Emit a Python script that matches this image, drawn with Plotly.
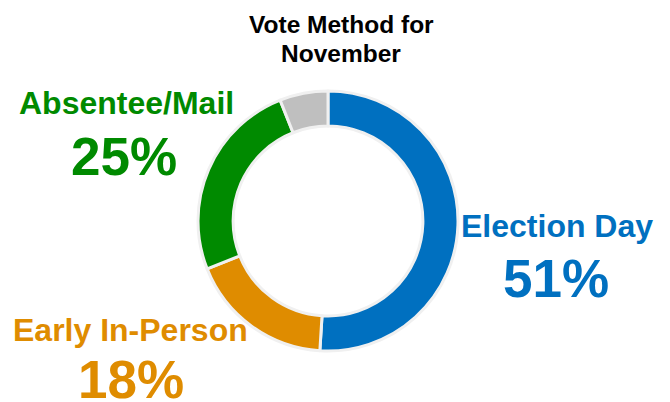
import plotly.graph_objects as go

categories = ["Election Day", "Early In-Person", "Absentee/Mail", "Other"]
values = [51, 18, 25, 6]
pct_labels = ["51%", "18%", "25%", None]
colors = ["#0070C0", "#DF8C00", "#008A00", "#BFBFBF"]
title_lines = ["Vote Method for", "November"]

W, H = 670, 402

fig = go.Figure(go.Pie(
    labels=categories,
    values=values,
    sort=False,
    direction="clockwise",
    rotation=0,
    hole=0.73,
    marker=dict(colors=colors, line=dict(color="#F0F0F0", width=3)),
    textinfo="none",
    hoverinfo="skip",
    domain=dict(x=[198 / W, 458 / W], y=[1 - 351 / H, 1 - 91 / H]),
    showlegend=False,
))

font_family = "Liberation Sans, Arial, sans-serif"

def px(x, y):
    return x / W, 1 - y / H

annotations = []
for line, yc in zip(title_lines, [24.5, 53]):
    x, y = px(341, yc)
    annotations.append(dict(text=f"<b>{line}</b>", x=x, y=y, xref="paper", yref="paper",
                            showarrow=False, xanchor="center", yanchor="middle",
                            font=dict(family=font_family, size=24.5, color="#000000")))

label_pos = {
    "Election Day": (557, 227, 556, 279),
    "Early In-Person": (130, 331, 131, 380),
    "Absentee/Mail": (126, 104, 124, 157),
}
for cat, pct, col in zip(categories, pct_labels, colors):
    if pct is None:
        continue
    lx, ly, px_, py_ = label_pos[cat]
    x, y = px(lx, ly - 1)
    annotations.append(dict(text=f"<b>{cat}</b>", x=x, y=y, xref="paper", yref="paper",
                            showarrow=False, xanchor="center", yanchor="middle",
                            font=dict(family=font_family, size=32, color=col)))
    x, y = px(px_, py_ - 1)
    annotations.append(dict(text=f"<b>{pct}</b>", x=x, y=y, xref="paper", yref="paper",
                            showarrow=False, xanchor="center", yanchor="middle",
                            font=dict(family=font_family, size=53, color=col)))

fig.update_layout(
    width=W, height=H,
    margin=dict(l=0, r=0, t=0, b=0),
    paper_bgcolor="white",
    plot_bgcolor="white",
    annotations=annotations,
)

fig.write_html("out.html",
               config={"displayModeBar": False},
               post_script="document.body.style.margin='0';document.body.style.overflow='hidden';")
